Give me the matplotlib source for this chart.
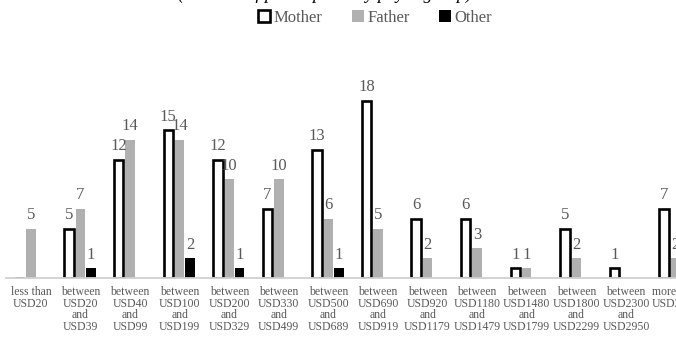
import numpy as np
import matplotlib.pyplot as plt

plt.rcParams['font.family'] = ['Liberation Serif', 'DejaVu Serif']

# 类别标签
categories = ["less than\nUSD20", "between\nUSD20\nand\nUSD39", "between\nUSD40\nand\nUSD99",
              "between\nUSD100\nand\nUSD199", "between\nUSD200\nand\nUSD329",
              "between\nUSD330\nand\nUSD499", "between\nUSD500\nand\nUSD689",
              "between\nUSD690\nand\nUSD919", "between\nUSD920\nand\nUSD1179",
              "between\nUSD1180\nand\nUSD1479", "between\nUSD1480\nand\nUSD1799",
              "between\nUSD1800\nand\nUSD2299", "between\nUSD2300\nand\nUSD2950",
              "more than\nUSD2950"]
mother = [0, 5, 12, 15, 12, 7, 13, 18, 6, 6, 1, 5, 1, 7]
father = [5, 7, 14, 14, 10, 10, 6, 5, 2, 3, 1, 2, 0, 2]
other = [0, 1, 0, 2, 1, 0, 1, 0, 0, 0, 0, 0, 0, 0]

fig = plt.figure(figsize=(6.76, 3.37), dpi=100)
# 右边被裁掉一截，所以坐标轴伸出画布
ax = fig.add_axes([0.009, 0.175, 1.027, 0.585])

x = np.arange(len(categories))
w = 0.19
b1 = ax.bar(x - 0.23, mother, w, color='white', edgecolor='black', linewidth=1.9, label='Mother')
b2 = ax.bar(x, father, w, color='#b0b0b0', label='Father')
b3 = ax.bar(x + 0.21, other, w, color='black', label='Other')

lab_color = '#595959'
for bars, vals in ((b1, mother), (b2, father), (b3, other)):
    for r, v in zip(bars, vals):
        if v == 0:
            continue
        ax.annotate(str(v), (r.get_x() + r.get_width() / 2, v), xytext=(0, 4),
                    textcoords='offset points', ha='center', va='bottom',
                    fontsize=12, color=lab_color)

ax.set_xlim(-0.5, len(categories) - 0.5)
ax.set_ylim(0, 20)
ax.set_yticks([])
ax.set_xticks(x)
ax.set_xticklabels(categories, fontsize=8.5, color=lab_color, linespacing=0.95)
ax.tick_params(axis='x', length=0, pad=6)
for s in ['top', 'right', 'left']:
    ax.spines[s].set_visible(False)
ax.spines['bottom'].set_color('#d0d0d0')
ax.spines['bottom'].set_linewidth(1.3)

fig.legend(handles=[b1, b2, b3], loc='center', bbox_to_anchor=(0.555, 0.948), ncol=3,
           frameon=False, fontsize=12, handlelength=0.7, handleheight=0.7,
           handletextpad=0.2, columnspacing=1.8, labelcolor=lab_color)

# 标题只剩下一点点
fig.text(0.48, 1.003, "(Number of participants by payer group)", ha='center', va='baseline',
         fontsize=13, style='italic')

fig.savefig('out.png', dpi=100)
